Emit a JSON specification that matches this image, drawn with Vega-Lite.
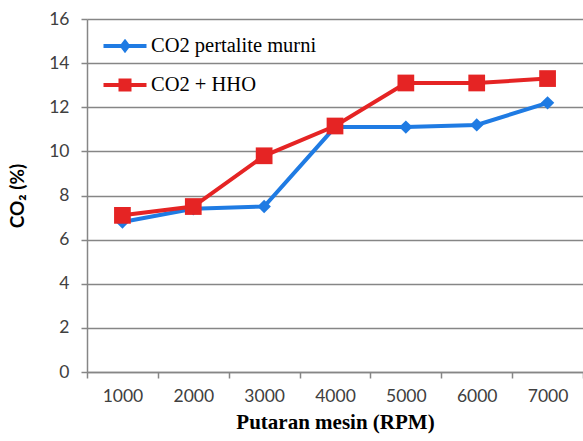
{
  "$schema": "https://vega.github.io/schema/vega-lite/v6.json",
  "width": 496,
  "height": 353,
  "autosize": {"type": "none"},
  "padding": {"left": 87, "top": 19, "right": 0, "bottom": 69},
  "background": "white",
  "data": {
    "values": [
      {"rpm": "1000", "series": "CO2 pertalite murni", "co2": 6.8},
      {"rpm": "2000", "series": "CO2 pertalite murni", "co2": 7.4},
      {"rpm": "3000", "series": "CO2 pertalite murni", "co2": 7.5},
      {"rpm": "4000", "series": "CO2 pertalite murni", "co2": 11.1},
      {"rpm": "5000", "series": "CO2 pertalite murni", "co2": 11.1},
      {"rpm": "6000", "series": "CO2 pertalite murni", "co2": 11.2},
      {"rpm": "7000", "series": "CO2 pertalite murni", "co2": 12.2},
      {"rpm": "1000", "series": "CO2 + HHO", "co2": 7.1},
      {"rpm": "2000", "series": "CO2 + HHO", "co2": 7.5},
      {"rpm": "3000", "series": "CO2 + HHO", "co2": 9.8},
      {"rpm": "4000", "series": "CO2 + HHO", "co2": 11.15},
      {"rpm": "5000", "series": "CO2 + HHO", "co2": 13.1},
      {"rpm": "6000", "series": "CO2 + HHO", "co2": 13.1},
      {"rpm": "7000", "series": "CO2 + HHO", "co2": 13.3}
    ]
  },
  "encoding": {
    "x": {
      "field": "rpm", "type": "ordinal",
      "scale": {"type": "band", "paddingInner": 0, "paddingOuter": 0},
      "axis": {
        "title": "Putaran mesin (RPM)", "labelAngle": 0, "tickBand": "extent",
        "grid": false, "domainColor": "#868686", "domainWidth": 1.5,
        "tickColor": "#868686", "tickWidth": 1.5, "tickSize": 6,
        "labelFont": "Lato", "labelFontSize": 17.5, "labelColor": "#404040", "labelPadding": 9,
        "titleFont": "Liberation Serif", "titleFontSize": 21, "titleFontWeight": "bold", "titleColor": "#000000", "titlePadding": 7
      }
    },
    "y": {
      "field": "co2", "type": "quantitative",
      "scale": {"domain": [0, 16], "nice": false},
      "axis": {
        "title": "CO₂ (%)", "values": [0, 2, 4, 6, 8, 10, 12, 14, 16],
        "grid": true, "gridColor": "#868686", "gridWidth": 1.5,
        "domainColor": "#868686", "domainWidth": 1.5,
        "tickColor": "#868686", "tickWidth": 1.5, "tickSize": 6,
        "labelFont": "Lato", "labelFontSize": 17.5, "labelColor": "#404040", "labelPadding": 12,
        "titleFont": "Lato", "titleFontSize": 19, "titleFontWeight": "bold", "titleColor": "#000000", "titlePadding": 21
      }
    },
    "color": {
      "field": "series", "type": "nominal",
      "scale": {"domain": ["CO2 pertalite murni", "CO2 + HHO"], "range": ["#1f7be3", "#e52424"]},
      "legend": {
        "title": null, "orient": "none", "legendX": 26, "legendY": 15,
        "symbolSize": 400, "labelOffset": 14, "labelLimit": 400,
        "labelFont": "Liberation Serif", "labelFontSize": 20.5, "labelColor": "#000000",
        "rowPadding": 14, "symbolStrokeWidth": 4,
        "encode": {
          "symbols": {
            "enter": {
              "shape": {"signal": "datum.value === 'CO2 + HHO' ? 'M-2.15,0H2.15M-0.45,-0.45H0.45V0.45H-0.45Z' : 'M-2.15,0H2.15M0,-0.4L0.3,0L0,0.4L-0.3,0Z'"}
            },
            "update": {
              "shape": {"signal": "datum.value === 'CO2 + HHO' ? 'M-2.15,0H2.15M-0.45,-0.45H0.45V0.45H-0.45Z' : 'M-2.15,0H2.15M0,-0.4L0.3,0L0,0.4L-0.3,0Z'"},
              "strokeWidth": {"value": 4},
              "opacity": {"value": 1}
            }
          }
        }
      }
    }
  },
  "layer": [
    {
      "mark": {"type": "line", "strokeWidth": 4},
      "encoding": {"order": {"field": "rpm"}}
    },
    {
      "transform": [{"filter": "datum.series === 'CO2 pertalite murni'"}],
      "mark": {"type": "point", "filled": true, "opacity": 1, "shape": "diamond", "size": 180}
    },
    {
      "transform": [{"filter": "datum.series === 'CO2 + HHO'"}],
      "mark": {"type": "point", "filled": true, "opacity": 1, "shape": "square", "size": 280}
    }
  ],
  "config": {"view": {"stroke": null}}
}
